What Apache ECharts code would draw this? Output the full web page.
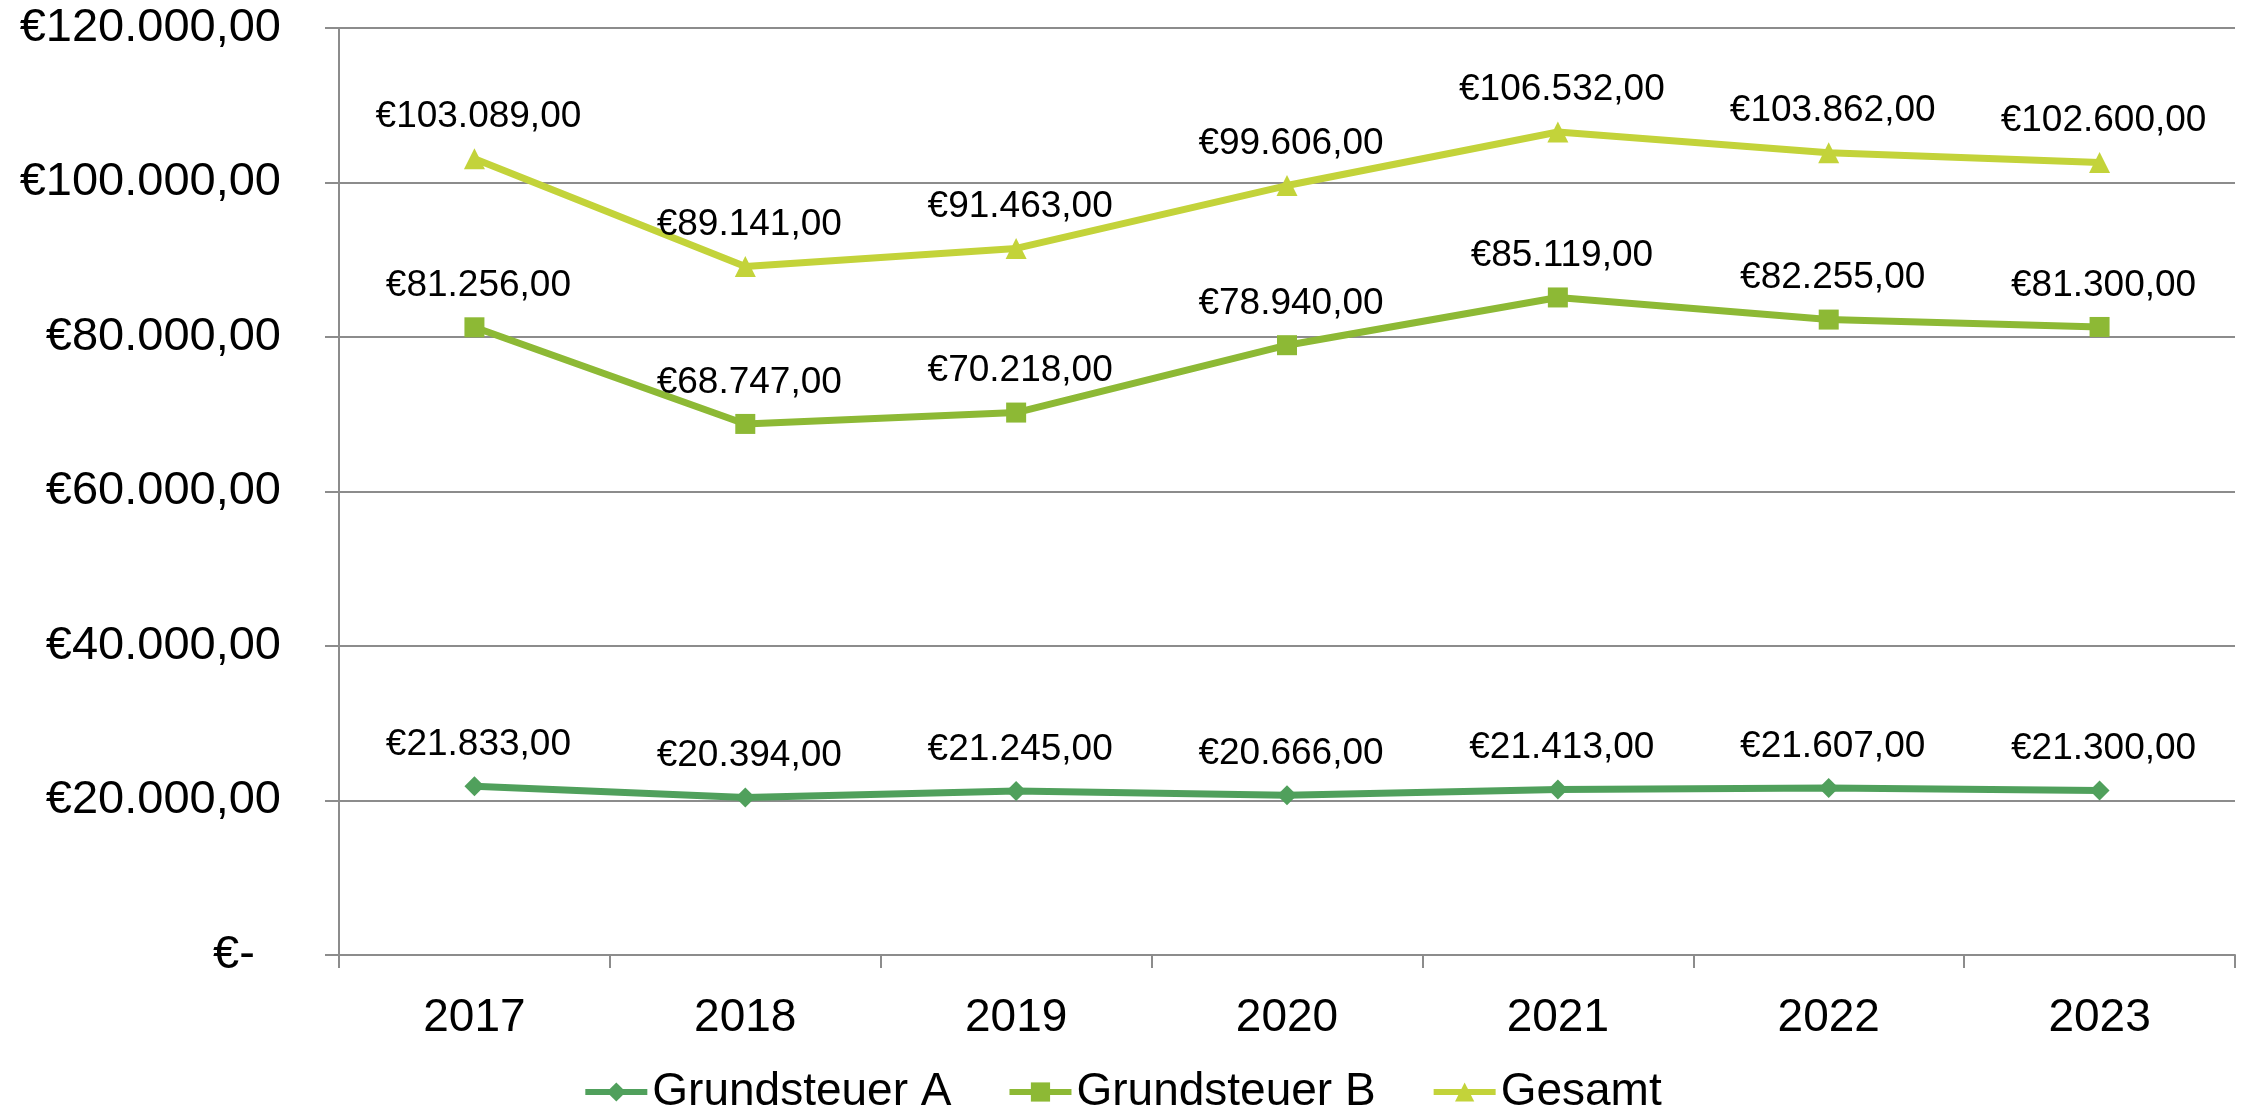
<!DOCTYPE html>
<html>
<head>
<meta charset="utf-8">
<script src="https://cdn.jsdelivr.net/npm/echarts@6/dist/echarts.min.js"></script>
<style>
  html, body { margin: 0; padding: 0; background: #fff; }
  #chart { width: 2244px; height: 1110px; }
</style>
</head>
<body>
<div id="chart"></div>
<script>
// Daten
const years = ['2017', '2018', '2019', '2020', '2021', '2022', '2023'];
const grundsteuerA = [21833, 20394, 21245, 20666, 21413, 21607, 21300];
const grundsteuerB = [81256, 68747, 70218, 78940, 85119, 82255, 81300];
const gesamt = [103089, 89141, 91463, 99606, 106532, 103862, 102600];
const seriesNames = ['Grundsteuer A', 'Grundsteuer B', 'Gesamt'];

const FONT = '"Liberation Sans", Arial, sans-serif';

// 12345 -> "€12.345,00"
const euro = (v) => {
  if (v === 0) return '€-  ';
  const s = String(Math.round(v)).replace(/\B(?=(\d{3})+(?!\d))/g, '.');
  return '€' + s + ',00';
};

const chart = echarts.init(document.getElementById('chart'));

const labelStyle = {
  show: true,
  position: 'top',
  distance: 13,
  offset: [4, 0],
  fontSize: 37,
  fontFamily: FONT,
  color: '#000',
  formatter: (p) => euro(p.value)
};

const makeSeries = (name, data, color, symbol, size) => ({
  name: name,
  type: 'line',
  data: data,
  symbol: symbol,
  symbolSize: size,
  showAllSymbol: true,
  lineStyle: { color: color, width: 7 },
  itemStyle: { color: color },
  label: labelStyle,
  animation: false
});

const option = {
  backgroundColor: '#fff',
  grid: {
    left: 339,
    right: 9,
    top: 28,
    bottom: 155,
    outerBoundsMode: 'none'
  },
  legend: {
    top: 1064,
    left: 'center',
    itemWidth: 62,
    itemHeight: 24,
    itemGap: 55,
    lineStyle: { width: 6 },
    textStyle: { fontSize: 46, fontFamily: FONT, color: '#000' },
    data: seriesNames
  },
  xAxis: {
    type: 'category',
    data: years,
    boundaryGap: true,
    axisLine: { show: true, lineStyle: { color: '#8c8c8c', width: 2 } },
    axisTick: { show: true, interval: 0, length: 13, lineStyle: { color: '#8c8c8c', width: 2 } },
    axisLabel: { fontSize: 46, fontFamily: FONT, color: '#000', margin: 40 }
  },
  yAxis: {
    type: 'value',
    min: 0,
    max: 120000,
    interval: 20000,
    axisLine: { show: true, lineStyle: { color: '#8c8c8c', width: 2 } },
    axisTick: { show: true, length: 14, lineStyle: { color: '#8c8c8c', width: 2 } },
    splitLine: { show: true, lineStyle: { color: '#8c8c8c', width: 2 } },
    axisLabel: {
      fontSize: 47,
      fontFamily: FONT,
      color: '#000',
      margin: 58,
      formatter: euro
    }
  },
  series: [
    makeSeries(seriesNames[0], grundsteuerA, '#50A05C', 'diamond', 20),
    makeSeries(seriesNames[1], grundsteuerB, '#8DB935', 'rect', 20),
    makeSeries(seriesNames[2], gesamt, '#C3D33A', 'triangle', 21)
  ]
};

chart.setOption(option);
</script>
</body>
</html>
